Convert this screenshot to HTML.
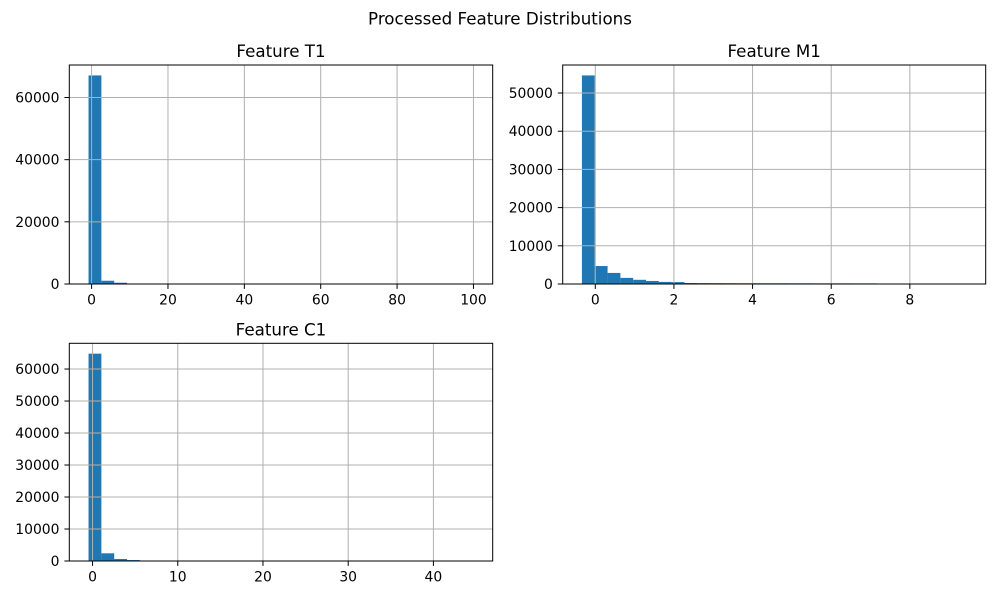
<!DOCTYPE html>
<html><head><meta charset="utf-8"><style>
html,body{margin:0;padding:0;background:#fff;}
svg text{font-family:"DejaVu Sans","Liberation Sans",sans-serif;fill:#000;}
</style></head><body>
<svg id="fig" width="1000" height="600" viewBox="0 0 1000 600" xmlns="http://www.w3.org/2000/svg">
<rect width="1000" height="600" fill="#fff"/>
<text x="500" y="24.3" font-size="16.7" text-anchor="middle">Processed Feature Distributions</text>
</svg>
<script>
// Feature T1 histogram (30 bins)
const t1Range = [-0.8, 100];
const t1Counts = [67100,1050,400,150,80,50,30,20,15,10,8,6,5,4,3,3,2,2,2,1,1,1,1,1,1,1,1,1,1,1];
const t1XTicks = [0,20,40,60,80,100];
const t1YTicks = [0,20000,40000,60000];
// Feature M1 histogram (30 bins)
const m1Range = [-0.34, 9.44];
const m1Counts = [54600,4700,2900,1600,1100,800,550,500,260,230,220,210,200,200,190,190,180,180,170,170,170,160,160,40,20,10,5,3,2,20];
const m1XTicks = [0,2,4,6,8];
const m1YTicks = [0,10000,20000,30000,40000,50000];
// Feature C1 histogram (30 bins)
const c1Range = [-0.47, 44.7];
const c1Counts = [64800,2400,620,300,120,60,40,25,15,10,8,6,5,4,3,3,2,2,2,1,1,1,1,1,1,1,1,1,1,1];
const c1XTicks = [0,10,20,30,40];
const c1YTicks = [0,10000,20000,30000,40000,50000,60000];

const NS = "http://www.w3.org/2000/svg";
const fig = document.getElementById('fig');
function mk(tag, attrs, parent){
  const e = document.createElementNS(NS, tag);
  for (const k in attrs) e.setAttribute(k, attrs[k]);
  (parent||fig).appendChild(e);
  return e;
}
function hist(key, title, box, range, counts, xticks, yticks){
  const g = mk('g', {});
  
  
  const [L,T,R,B] = box;
  const span = range[1]-range[0];
  const x0 = range[0]-0.05*span, x1 = range[1]+0.05*span;
  const ymax = Math.max(...counts)*1.05;
  const sx = v => L + (v-x0)/(x1-x0)*(R-L);
  const sy = v => B - v/ymax*(B-T);
  const bw = span/counts.length;
  counts.forEach((c,i)=>{
    if (c<=0) return;
    const a = sx(range[0]+i*bw), b = sx(range[0]+(i+1)*bw);
    const r = mk('rect', {x:a, y:sy(c), width:b-a, height:B-sy(c), fill:'#1f77b4'}, g);
    
    
  });
  xticks.forEach(t=>{
    const x = sx(t);
    const ln = mk('line', {x1:x, x2:x, y1:T, y2:B, stroke:'#b0b0b0', 'stroke-width':1}, g);
    
    
    mk('line', {x1:x, x2:x, y1:B, y2:B+4.9, stroke:'#000', 'stroke-width':1}, g);
    const tx = mk('text', {x:x, y:B+20.5, 'font-size':13.9, 'text-anchor':'middle'}, g);
    tx.textContent = t;
    
    
  });
  yticks.forEach(t=>{
    const y = sy(t);
    const ln = mk('line', {x1:L, x2:R, y1:y, y2:y, stroke:'#b0b0b0', 'stroke-width':1}, g);
    
    
    mk('line', {x1:L-4.9, x2:L, y1:y, y2:y, stroke:'#000', 'stroke-width':1}, g);
    const tx = mk('text', {x:L-9.8, y:y+5, 'font-size':13.9, 'text-anchor':'end'}, g);
    tx.textContent = t;
    
    
  });
  const fr = mk('rect', {x:L, y:T, width:R-L, height:B-T, fill:'none', stroke:'#000', 'stroke-width':1}, g);
  
  
  const tt = mk('text', {x:(L+R)/2, y:T-8, 'font-size':16.7, 'text-anchor':'middle'}, g);
  tt.textContent = title;
  
  
}
hist('feature-t1', 'Feature T1', [69.3,65,492.7,284], t1Range, t1Counts, t1XTicks, t1YTicks);
hist('feature-m1', 'Feature M1', [562.7,65,985.7,284], m1Range, m1Counts, m1XTicks, m1YTicks);
hist('feature-c1', 'Feature C1', [69.3,343.3,492.7,561], c1Range, c1Counts, c1XTicks, c1YTicks);
</script>
</body></html>
